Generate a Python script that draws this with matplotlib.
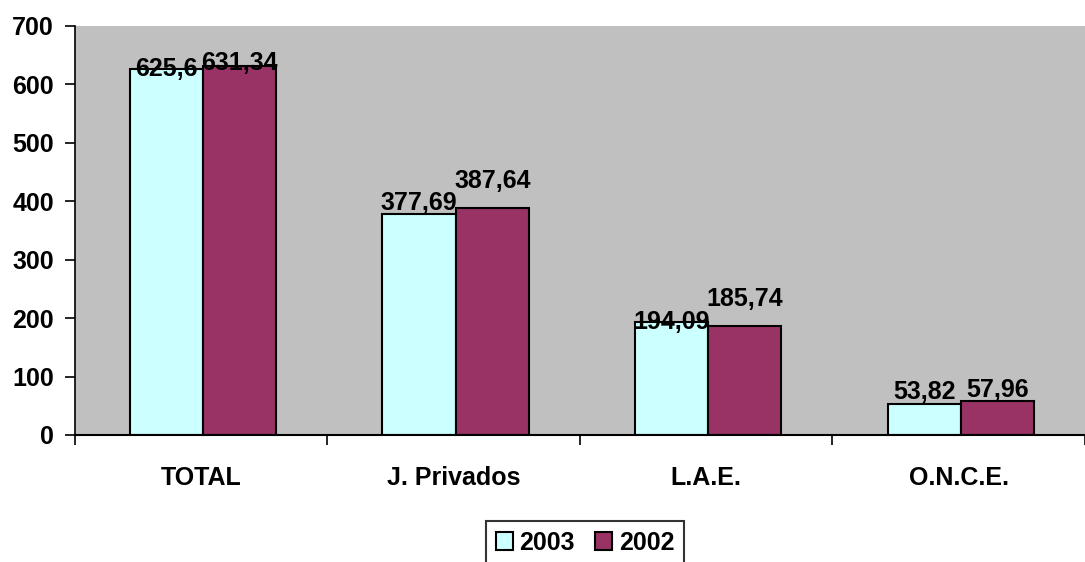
import numpy as np
import matplotlib.pyplot as plt

categorias = ["TOTAL", "J. Privados", "L.A.E.", "O.N.C.E."]
valores_2003 = [625.6, 377.69, 194.09, 53.82]
valores_2002 = [631.34, 387.64, 185.74, 57.96]
etiquetas_2003 = ["625,6", "377,69", "194,09", "53,82"]
etiquetas_2002 = ["631,34", "387,64", "185,74", "57,96"]

plt.rcParams['font.family'] = ['Liberation Sans', 'DejaVu Sans']
plt.rcParams['font.weight'] = 'bold'

fs = 18
fig = plt.figure(figsize=(10.85, 5.62), dpi=100)
ax = fig.add_axes([0.069, 0.226, 0.931, 0.728])
ax.set_facecolor("#C0C0C0")

x = np.arange(len(categorias))
w = 0.29
ax.bar(x - w/2 + 0.008, valores_2003, w, color="#CCFFFF", edgecolor="black", linewidth=1.5, label="2003")
ax.bar(x + w/2 + 0.008, valores_2002, w, color="#993366", edgecolor="black", linewidth=1.5, label="2002")

# desplazamiento vertical de las etiquetas (en puntos), como en el original
desp_2003 = [0, 8, 0, 8]
desp_2002 = [2, 20, 20, 8]
for i in range(len(x)):
    ax.annotate(etiquetas_2003[i], (x[i] - w/2 + 0.008, valores_2003[i]), xytext=(0, desp_2003[i]),
                textcoords="offset points", ha="center", va="center", fontsize=fs, fontweight="bold")
    ax.annotate(etiquetas_2002[i], (x[i] + w/2 + 0.008, valores_2002[i]), xytext=(0, desp_2002[i]),
                textcoords="offset points", ha="center", va="center", fontsize=fs, fontweight="bold")

ax.set_xlim(-0.5, 3.5)
ax.set_ylim(0, 700)
ax.set_yticks(range(0, 701, 100))
ax.set_xticks(x)
ax.set_xticklabels(categorias, fontsize=fs, fontweight="bold")
ax.set_xticks(np.arange(-0.5, 4, 1), minor=True)
ax.tick_params(axis="x", which="major", length=0, pad=22)
ax.tick_params(axis="x", which="minor", length=7, width=1.2, direction="out")
ax.tick_params(axis="y", length=7, width=1.2, direction="out", labelsize=fs, pad=8)
for t in ax.get_yticklabels():
    t.set_fontweight("bold")
ax.spines["top"].set_visible(False)
ax.spines["right"].set_visible(False)
ax.spines["left"].set_linewidth(1.2)
ax.spines["bottom"].set_linewidth(1.5)

leg = ax.legend(loc="upper center", bbox_to_anchor=(0.505, -0.21), ncol=2, fontsize=fs,
                frameon=True, fancybox=False, edgecolor="black", handlelength=0.7,
                handleheight=0.7, handletextpad=0.25, columnspacing=0.8, borderpad=0.4,
                borderaxespad=0)
leg.get_frame().set_linewidth(1.5)
for t in leg.get_texts():
    t.set_fontweight("bold")

fig.savefig("out.png", dpi=100)
